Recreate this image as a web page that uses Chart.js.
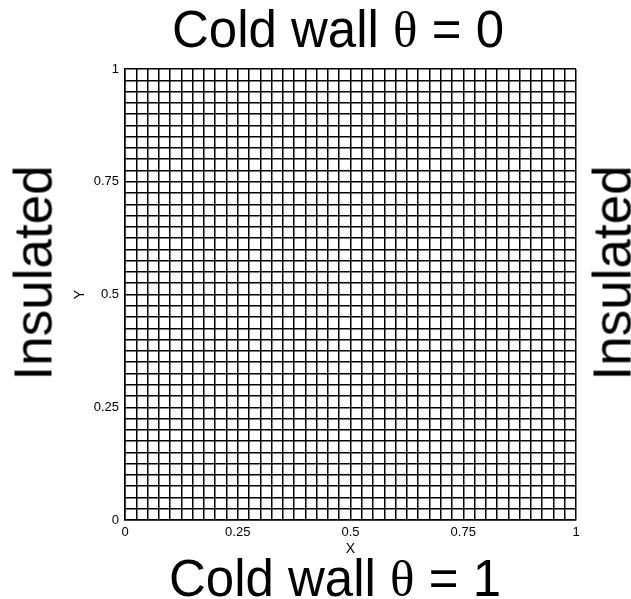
<!DOCTYPE html>
<html>
<head>
<meta charset="utf-8">
<script src="https://cdn.jsdelivr.net/npm/chart.js@4/dist/chart.umd.min.js"></script>
<style>
  html, body { margin: 0; padding: 0; background: #fff; }
  #wrap { position: relative; width: 631px; height: 599px; overflow: hidden; }
  #c { position: absolute; left: 0; top: 0; }
  .lbl { position: absolute; font-family: "Liberation Sans", Arial, sans-serif; font-size: 51px; color: #000; white-space: nowrap; line-height: 1; }
  .lbl .th { font-family: "Liberation Serif", "Times New Roman", serif; }
  .h { transform: translate(-50%, 0); }
  .v { font-size: 53px; transform: translate(-50%, -50%) rotate(-90deg); }
</style>
</head>
<body>
<div id="wrap">
  <canvas id="c" width="631" height="599"></canvas>
  <div class="lbl h" style="left:338px; top:4px;">Cold wall <span class="th">θ</span> = 0</div>
  <div class="lbl h" style="left:335px; top:553px;">Cold wall <span class="th">θ</span> = 1</div>
  <div class="lbl v" style="left:33px; top:273px;">Insulated</div>
  <div class="lbl v" style="left:612px; top:273px;">Insulated</div>
</div>
<script>
// Uniform 40 x 40 mesh node coordinates
const meshX = [0, 0.025, 0.05, 0.075, 0.1, 0.125, 0.15, 0.175, 0.2, 0.225,
  0.25, 0.275, 0.3, 0.325, 0.35, 0.375, 0.4, 0.425, 0.45, 0.475,
  0.5, 0.525, 0.55, 0.575, 0.6, 0.625, 0.65, 0.675, 0.7, 0.725,
  0.75, 0.775, 0.8, 0.825, 0.85, 0.875, 0.9, 0.925, 0.95, 0.975, 1];
const meshY = [0, 0.025, 0.05, 0.075, 0.1, 0.125, 0.15, 0.175, 0.2, 0.225,
  0.25, 0.275, 0.3, 0.325, 0.35, 0.375, 0.4, 0.425, 0.45, 0.475,
  0.5, 0.525, 0.55, 0.575, 0.6, 0.625, 0.65, 0.675, 0.7, 0.725,
  0.75, 0.775, 0.8, 0.825, 0.85, 0.875, 0.9, 0.925, 0.95, 0.975, 1];
// Labelled tick values on both axes
const xTickLabels = [0, 0.25, 0.5, 0.75, 1];
const yTickLabels = [0, 0.25, 0.5, 0.75, 1];

const TICK_FONT = { family: '"Liberation Sans", Arial, sans-serif', size: 13 };
const TITLE_FONT = { family: '"Liberation Sans", Arial, sans-serif', size: 14 };

function meshScale(nodes, labels, titleText, position) {
  return {
    type: 'linear',
    position: position,
    min: 0,
    max: 1,
    afterBuildTicks: (scale) => { scale.ticks = nodes.map(v => ({ value: v })); },
    ticks: {
      autoSkip: false,
      maxRotation: 0,
      color: '#000',
      font: TICK_FONT,
      padding: position === 'left' ? 6 : 5,
      callback: (v) => labels.includes(v) ? String(v) : ''
    },
    grid: {
      color: '#000',
      lineWidth: 1.5,
      drawTicks: false
    },
    border: { color: '#000', width: 1.5 },
    title: {
      display: true,
      text: titleText,
      color: '#000',
      font: TITLE_FONT,
      padding: 0
    }
  };
}

const xScale = meshScale(meshX, xTickLabels, 'X', 'bottom');
xScale.afterFit = (s) => { s.height = 38; };
const yScale = meshScale(meshY, yTickLabels, 'Y', 'left');
yScale.afterFit = (s) => { s.width = 53; };

new Chart(document.getElementById('c'), {
  type: 'scatter',
  data: { datasets: [] },
  options: {
    responsive: false,
    animation: false,
    layout: { padding: { left: 72, right: 55, top: 69, bottom: 41 } },
    plugins: { legend: { display: false }, tooltip: { enabled: false } },
    scales: { x: xScale, y: yScale }
  }
});
</script>
</body>
</html>
